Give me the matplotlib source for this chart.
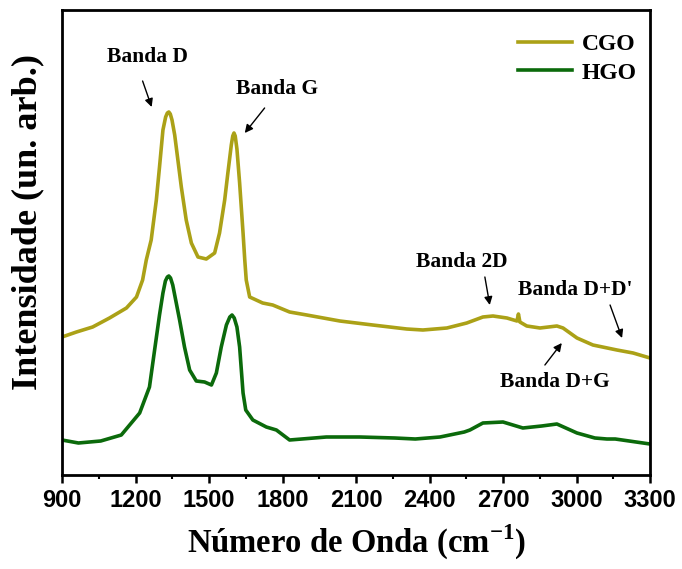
import matplotlib
matplotlib.use("Agg")
import matplotlib.pyplot as plt
from matplotlib.ticker import MultipleLocator

# Raman spectra, intensities (arbitrary units)
cgo_x = [900, 959, 1025, 1094, 1163, 1204, 1229, 1244, 1264, 1285, 1298, 1312,
         1323, 1330, 1336, 1342, 1349, 1360, 1373, 1387, 1407, 1428, 1455, 1489,
         1523, 1543, 1564, 1577, 1591, 1597, 1602, 1607, 1614, 1625, 1639, 1646,
         1652, 1666, 1719, 1760, 1829, 1899, 2034, 2168, 2307, 2373, 2471, 2552,
         2618, 2659, 2716, 2757, 2763, 2769, 2797, 2851, 2920, 2945, 3002, 3067,
         3165, 3231, 3300]
cgo_y = [138, 143, 148, 157, 167, 178, 195, 215, 235, 275, 308, 345,
         358, 362, 363, 361, 355, 340, 315, 288, 255, 232, 218, 216,
         222, 242, 275, 302, 330, 339, 342, 339, 326, 292, 242, 215,
         195, 178, 172, 170, 163, 160, 154, 150, 146, 145, 147, 152,
         158, 159, 157, 154, 161, 153, 149, 147, 149, 147, 137, 130,
         125, 122, 117]

hgo_x = [900, 967, 1058, 1142, 1217, 1257, 1278, 1298, 1312, 1322, 1330, 1336,
         1343, 1352, 1364, 1380, 1400, 1421, 1448, 1482, 1510, 1530, 1550, 1571,
         1585, 1594, 1603, 1614, 1625, 1639, 1650, 1679, 1734, 1775, 1829, 1979,
         2115, 2258, 2342, 2443, 2542, 2565, 2618, 2700, 2781, 2858, 2920, 3002,
         3075, 3124, 3158, 3300]
hgo_y = [35, 32, 34, 40, 62, 88, 125, 160, 182, 194, 198, 199,
         197, 190, 175, 155, 128, 105, 94, 93, 90, 102, 128, 150,
         158, 160, 157, 148, 128, 82, 65, 55, 48, 45, 35, 38,
         38, 37, 36, 38, 43, 45, 52, 53, 47, 49, 51, 42,
         37, 36, 36, 31]

# label, text position, arrow tail, arrow head
bands = [
    ("Banda D", (1249, 418), (1229, 394), (1266, 368)),
    ("Banda G", (1776, 386), (1727, 367), (1646, 342)),
    ("Banda 2D", (2532, 213), (2626, 198), (2646, 170)),
    ("Banda D+D'", (2993, 185), (3137, 170), (3186, 137)),
    ("Banda D+G", (2912, 93), (2871, 110), (2940, 132)),
]

serif = "Liberation Serif"
sans = "Liberation Sans"
plt.rcParams["mathtext.fontset"] = "custom"
plt.rcParams["mathtext.rm"] = "Liberation Serif"
plt.rcParams["mathtext.bf"] = "Liberation Serif:bold"

fig = plt.figure(figsize=(6.82, 5.69), dpi=100)
ax = fig.add_axes([62 / 682, 94 / 569, 588 / 682, 465 / 569])

ax.plot(cgo_x, cgo_y, color="#aba117", lw=2.6, label="CGO")
ax.plot(hgo_x, hgo_y, color="#0b6a0b", lw=2.6, label="HGO")

for name, txt, tail, head in bands:
    ax.text(txt[0], txt[1], name, ha="center", va="center",
            fontsize=15.5, fontweight="bold", family=serif)
    ax.annotate("", xy=head, xytext=tail,
                arrowprops=dict(arrowstyle="-|>", color="black", lw=1.0,
                                mutation_scale=12, shrinkA=0, shrinkB=0))

ax.set_xlim(900, 3300)
ax.set_ylim(0, 465)
ax.xaxis.set_major_locator(MultipleLocator(300))
ax.xaxis.set_minor_locator(MultipleLocator(150))
ax.set_yticks([])
ax.tick_params(axis="x", which="major", direction="out", length=6, width=1.8, pad=4)
ax.tick_params(axis="x", which="minor", direction="out", length=3, width=1.5)
for lab in ax.get_xticklabels():
    lab.set_fontfamily(sans)
    lab.set_fontweight("bold")
    lab.set_fontsize(17)
for s in ax.spines.values():
    s.set_linewidth(2)

ax.set_xlabel("Número de Onda (cm$^{\\mathbf{-1}}$)", fontsize=23.5, fontweight="bold",
              family=serif, labelpad=8)
ax.set_ylabel("Intensidade (un. arb.)", fontsize=26, fontweight="bold",
              family=serif)
ax.yaxis.set_label_coords(-0.03, 0.545)

leg = ax.legend(loc="upper right", frameon=False, handlelength=2.3,
                bbox_to_anchor=(1.005, 0.985),
                prop={"family": serif, "weight": "bold", "size": 17},
                borderaxespad=0.3, labelspacing=0.3, handletextpad=0.4)

fig.savefig("out.png", dpi=100)
